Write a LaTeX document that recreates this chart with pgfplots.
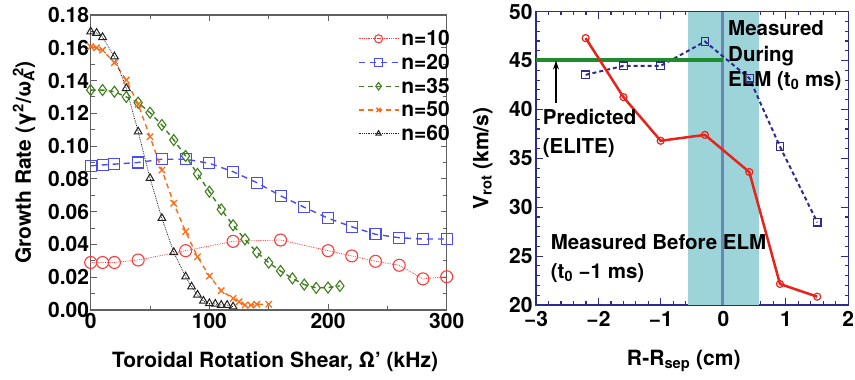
\documentclass[border=0pt]{standalone}
\usepackage{fontspec}
\setmainfont{TeX Gyre Heros}
\usepackage{pgfplots}
\pgfplotsset{compat=1.18}
\usepackage{pgfplotstable}
\usetikzlibrary{arrows.meta}
\definecolor{cred}{HTML}{FF3B3B}
\definecolor{cblue}{HTML}{4B4BF5}
\definecolor{cgreen}{HTML}{3F7F1F}
\definecolor{corange}{HTML}{FF6A13}
\definecolor{cblack}{HTML}{222222}
\definecolor{frameg}{HTML}{606060}
\definecolor{navy}{HTML}{2E2A8F}
\definecolor{bandc}{HTML}{9DD4DA}
\definecolor{vline}{HTML}{6A85B8}
\definecolor{gline}{HTML}{1E8C2E}
\definecolor{rred}{HTML}{E8231C}

\pgfplotstableread{
x y
0 0.029
10 0.029
20 0.029
40 0.0305
80 0.0362
120 0.0419
160 0.0427
200 0.0362
220 0.033
240 0.0297
260 0.0273
280 0.019
300 0.0203
}\nten
\pgfplotstableread{
x y
0 0.088
10 0.0885
20 0.089
40 0.090
60 0.092
80 0.092
100 0.0895
120 0.0844
140 0.0777
160 0.0697
180 0.0627
200 0.056
220 0.0508
240 0.0462
260 0.0441
280 0.0433
300 0.0433
}\ntwenty
\pgfplotstableread{
x y
0 0.1342
10 0.1342
20 0.1332
30 0.130
40 0.1265
50 0.1204
60 0.1129
70 0.1037
80 0.094
90 0.083
100 0.0722
110 0.0614
120 0.0517
130 0.0431
140 0.0352
150 0.0289
160 0.0238
170 0.0193
180 0.0155
190 0.0135
200 0.0137
210 0.0147
}\nthirtyfive
\pgfplotstableread{
x y
0 0.1607
5 0.160
10 0.1586
20 0.1509
30 0.1403
40 0.1255
50 0.1057
60 0.0854
70 0.0651
80 0.0478
90 0.0325
100 0.0207
110 0.0118
120 0.0071
125 0.005
130 0.003
135 0.003
140 0.0035
150 0.0035
}\nfifty
\pgfplotstableread{
x y
0 0.1698
5 0.169
10 0.1664
20 0.1546
30 0.1353
40 0.1088
50 0.0804
60 0.056
70 0.0352
80 0.0203
85 0.0142
90 0.0092
95 0.0055
100 0.004
105 0.0037
110 0.003
115 0.003
120 0.002
}\nsixty
\pgfplotstableread{
x y
-2.205 47.3
-1.60 41.26
-1.004 36.8
-0.295 37.4
0.415 33.6
0.906 22.15
1.503 20.85
}\before
\pgfplotstableread{
x y
-2.205 43.54
-1.60 44.46
-1.004 44.46
-0.295 46.95
0.415 43.2
0.906 36.2
1.503 28.46
}\during

\begin{document}
\begin{tikzpicture}[font=\bfseries]
\useasboundingbox (0,0) rectangle (855pt,380pt);
\begin{axis}[
  at={(90.7pt,70pt)}, anchor=south west,
  scale only axis, width=356pt, height=295pt,
  xmin=0, xmax=300, ymin=0, ymax=0.18,
  xtick={0,100,200,300}, minor x tick num=1,
  ytick={0,0.02,...,0.181}, minor y tick num=1,
  /pgf/number format/assume math mode=true,
  yticklabel style={/pgf/number format/fixed, /pgf/number format/fixed zerofill, /pgf/number format/precision=2, inner xsep=1.5pt},
  scaled y ticks=false,
  ticklabel style={font=\bfseries\fontsize{21}{21}\selectfont},
  axis line style={frameg, line width=1.3pt},
  tick style={frameg, line width=1pt},
  major tick length=6pt, minor tick length=4pt,
  clip=false,
  every axis y label/.style={at={(axis description cs:-0.187,0.5)}, rotate=90, anchor=center},
  every axis x label/.style={at={(axis description cs:0.518,-0.1956)}, anchor=base},
  ylabel={\fontsize{21}{21}\selectfont Growth Rate (γ\textsuperscript{2}/ω\textsubscript{A}\textsuperscript{\kern-0.45em2})},
  xlabel={\fontsize{21}{21}\selectfont Toroidal Rotation Shear, Ω' (kHz)},
  legend style={at={(axis description cs:0.75,0.955)}, anchor=north west, draw=none, fill=none, inner sep=0pt, row sep=3pt, font=\bfseries\fontsize{21}{21}\selectfont},
  legend cell align=left,
  legend image code/.code={\draw[mark repeat=2,mark phase=2,#1, every mark/.append style={scale=0.68}] plot coordinates {(0pt,0pt) (20pt,0pt) (40pt,0pt)};},
]
\addplot[cred, densely dotted, line width=0.8pt, mark=o, mark size=6pt, mark options={solid, line width=1.1pt}] table {\nten};
\addlegendentry{n=10}
\addplot[cblue, dash pattern=on 6pt off 5pt, line width=1.4pt, mark=square, mark size=5.5pt, mark options={solid, line width=1.1pt}] table {\ntwenty};
\addlegendentry{n=20}
\addplot[cgreen, dash pattern=on 5pt off 4pt, line width=1.4pt, mark=diamond, mark size=5.5pt, mark options={solid, line width=1.1pt}] table {\nthirtyfive};
\addlegendentry{n=35}
\addplot[corange, dash pattern=on 5pt off 4pt, line width=1.4pt, mark=x, mark size=4.5pt, mark options={solid, line width=1.3pt}] table {\nfifty};
\addlegendentry{n=50}
\addplot[cblack, densely dotted, line width=0.8pt, mark=triangle, mark size=4.5pt, mark options={solid, line width=1pt}] table {\nsixty};
\addlegendentry{n=60}
\end{axis}

\begin{axis}[
  at={(536pt,75pt)}, anchor=south west,
  scale only axis, width=312.3pt, height=293.3pt,
  xmin=-3, xmax=2, ymin=20, ymax=50,
  xtick={-3,-2,-1,0,1,2}, xticklabels={−3,−2,−1,0,1,2}, minor x tick num=4,
  ytick={20,25,...,50}, minor y tick num=4,
  /pgf/number format/assume math mode=true,
  ticklabel style={font=\bfseries\fontsize{21}{21}\selectfont},
  xticklabel style={yshift=-3pt},
  axis line style={navy, line width=1.5pt},
  tick style={navy, line width=1.1pt},
  major tick length=7pt, minor tick length=3.5pt,
  clip=false,
  every axis y label/.style={at={(axis description cs:-0.17,0.5)}, rotate=90, anchor=center},
  every axis x label/.style={at={(axis description cs:0.473,-0.2046)}, anchor=base},
  ylabel={\fontsize{21}{21}\selectfont V\textsubscript{rot} (km/s)},
  xlabel={\fontsize{21}{21}\selectfont R-R\textsubscript{sep} (cm)},
]
\addplot[fill=bandc, draw=none] coordinates {(-0.57,20) (-0.57,50) (0.575,50) (0.575,20)} -- cycle;
\addplot[vline, line width=3pt] coordinates {(-0.01,20) (-0.01,50)};
\addplot[navy, dash pattern=on 4pt off 3pt, line width=2pt, mark=square, mark size=3.8pt, mark options={solid, line width=1.2pt, fill=white}] table {\during};
\addplot[gline, line width=4pt] coordinates {(-3,45.1) (0,45.1)};
\addplot[rred, line width=2.5pt, mark=o, mark size=3.5pt, mark options={line width=1.2pt}] table {\before};
\addplot[black, line width=1.2pt, -{Stealth[length=9pt,width=6pt]}] coordinates {(-2.68,40.7) (-2.68,45.0)};
\node[anchor=base west, inner sep=0pt, font=\bfseries\fontsize{20.5}{20.5}\selectfont] at (axis cs:0.074,47.53) {Measured};
\node[anchor=base west, inner sep=0pt, font=\bfseries\fontsize{20.5}{20.5}\selectfont] at (axis cs:0.074,44.9) {During};
\node[anchor=base west, inner sep=0pt, font=\bfseries\fontsize{20.5}{20.5}\selectfont] at (axis cs:0.074,42.34) {ELM (t\textsubscript{0} ms)};
\node[anchor=base west, inner sep=0pt, font=\bfseries\fontsize{20.5}{20.5}\selectfont] at (axis cs:-2.893,38.42) {Predicted};
\node[anchor=base west, inner sep=0pt, font=\bfseries\fontsize{20.5}{20.5}\selectfont] at (axis cs:-2.893,35.53) {(ELITE)};
\node[anchor=base west, inner sep=0pt, font=\bfseries\fontsize{20.5}{20.5}\selectfont] at (axis cs:-2.765,25.63) {Measured Before ELM};
\node[anchor=base west, inner sep=0pt, font=\bfseries\fontsize{20.5}{20.5}\selectfont] at (axis cs:-2.765,22.73) {(t\textsubscript{0} −1 ms)};
\end{axis}
\end{tikzpicture}
\end{document}
